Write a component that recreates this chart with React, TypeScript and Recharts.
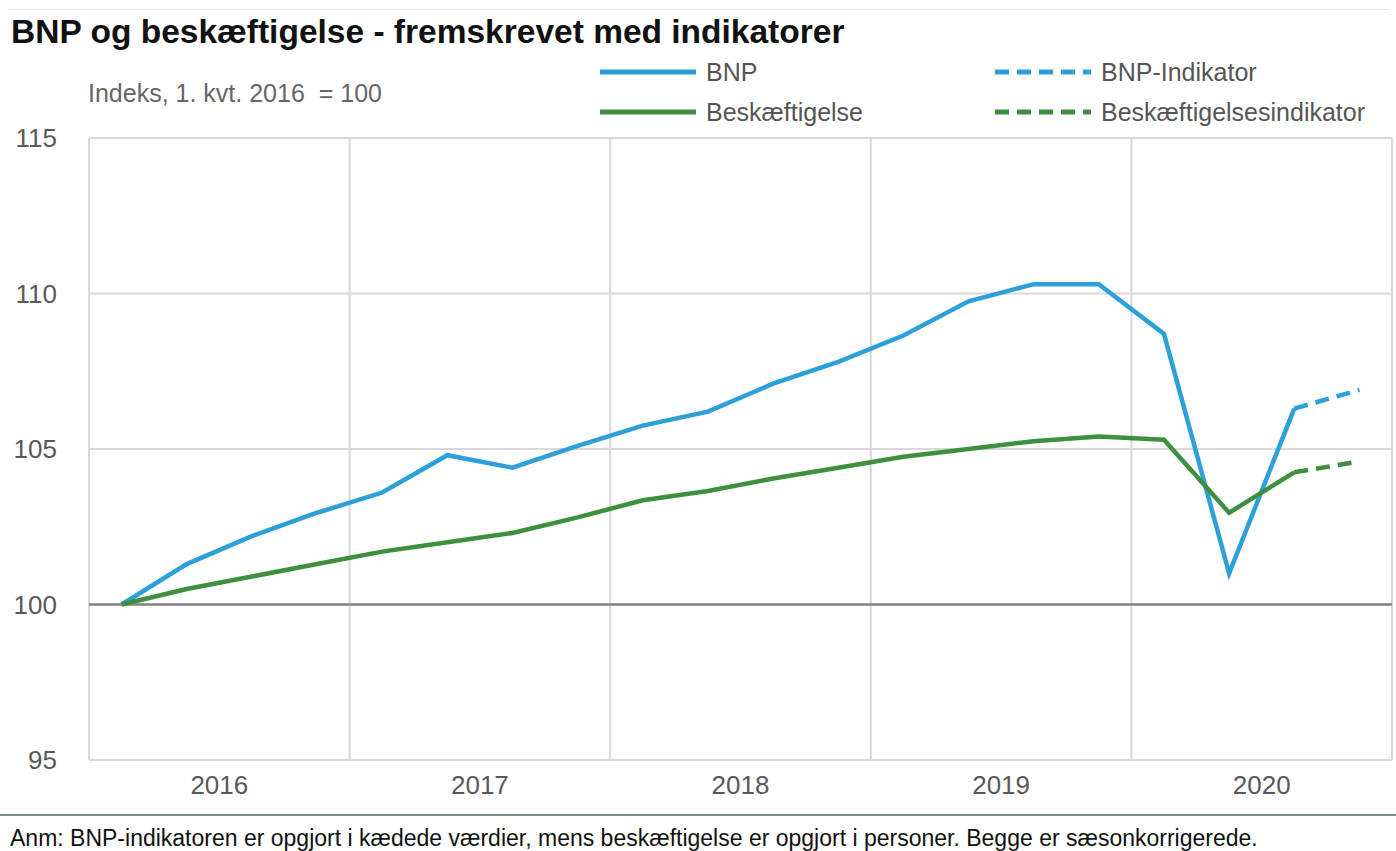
import React from "react";
import {
  LineChart,
  Line,
  XAxis,
  YAxis,
  CartesianGrid,
  ReferenceLine,
} from "recharts";

const years = [2016, 2017, 2018, 2019, 2020];
const quarters = ["K1", "K2", "K3", "K4"];

// BNP, indeks 1. kvt. 2016 = 100 (2016K1 .. 2020K3)
const bnpValues = [
  100, 101.3, 102.2, 102.95, 103.6, 104.8, 104.4, 105.1, 105.75, 106.2, 107.1, 107.8,
  108.65, 109.75, 110.3, 110.3, 108.7, 101.0, 106.3,
];
// BNP-indikator (2020K3 .. 2020K4)
const bnpIndicator = [106.3, 106.9];

const empValues = [
  100, 100.5, 100.9, 101.3, 101.7, 102.0, 102.3, 102.8, 103.35, 103.65, 104.05, 104.4,
  104.75, 105.0, 105.25, 105.4, 105.3, 102.95, 104.25,
];
const empIndicator = [104.25, 104.6];

const yTicks = [95, 100, 105, 110, 115];

const BLUE = "#2d9fd9";
const GREEN = "#3e8f40";
const NARROW = "'Liberation Sans Narrow', 'Liberation Sans', Arial, sans-serif";

const data = years.flatMap((y, yi) =>
  quarters.map((q, qi) => {
    const i = yi * 4 + qi;
    const indStart = bnpValues.length - 1;
    return {
      t: i,
      label: `${y}${q}`,
      bnp: i < bnpValues.length ? bnpValues[i] : null,
      emp: i < empValues.length ? empValues[i] : null,
      bnpInd: i >= indStart ? bnpIndicator[i - indStart] : null,
      empInd: i >= indStart ? empIndicator[i - indStart] : null,
    };
  })
);

const yearTicks = years.map((_, i) => i * 4 + 1.5);
const yearBounds = years.slice(1).map((_, i) => (i + 1) * 4 - 0.5);

const LegendItem = ({ color, dashed, label }: { color: string; dashed?: boolean; label: string }) => (
  <div style={{ display: "flex", alignItems: "center", height: 40 }}>
    <svg width={100} height={10} style={{ marginRight: 8 }}>
      <line
        x1={2}
        x2={98}
        y1={5}
        y2={5}
        stroke={color}
        strokeWidth={5}
        strokeDasharray={dashed ? "14 8" : undefined}
      />
    </svg>
    <span>{label}</span>
  </div>
);

export default function App() {
  return (
    <div
      style={{
        position: "absolute",
        left: 0,
        top: 0,
        width: 1396,
        height: 851,
        background: "#fff",
        overflow: "hidden",
      }}
    >
      <div style={{ position: "absolute", left: 8, right: 8, top: 9, borderTop: "1px solid #e6e6e6" }} />
      <div
        style={{
          position: "absolute",
          left: 11,
          top: 13,
          fontFamily: "'Liberation Sans', Arial, sans-serif",
          fontWeight: "bold",
          fontSize: 33.5,
          color: "#111",
          whiteSpace: "nowrap",
        }}
      >
        BNP og beskæftigelse - fremskrevet med indikatorer
      </div>
      <div
        style={{
          position: "absolute",
          left: 88,
          top: 79,
          fontFamily: NARROW,
          fontSize: 25,
          color: "#666",
          whiteSpace: "nowrap",
        }}
      >
        Indeks, 1. kvt. 2016&nbsp; = 100
      </div>
      <div
        style={{
          position: "absolute",
          left: 598,
          top: 52,
          fontFamily: NARROW,
          fontSize: 25,
          color: "#555",
          whiteSpace: "nowrap",
        }}
      >
        <LegendItem color={BLUE} label="BNP" />
        <LegendItem color={GREEN} label="Beskæftigelse" />
      </div>
      <div
        style={{
          position: "absolute",
          left: 993,
          top: 52,
          fontFamily: NARROW,
          fontSize: 25,
          color: "#555",
          whiteSpace: "nowrap",
        }}
      >
        <LegendItem color={BLUE} dashed label="BNP-Indikator" />
        <LegendItem color={GREEN} dashed label="Beskæftigelsesindikator" />
      </div>

      <div style={{ position: "absolute", left: 0, top: 0 }}>
        <LineChart
          width={1396}
          height={851}
          data={data}
          margin={{ top: 138, right: 4, bottom: 41, left: 0 }}
        >
          <CartesianGrid vertical={false} stroke="#d9d9d9" strokeWidth={2} />
          {yearBounds.map((b) => (
            <ReferenceLine key={b} x={b} stroke="#d9d9d9" strokeWidth={2} />
          ))}
          <ReferenceLine x={-0.5} stroke="#d9d9d9" strokeWidth={2} />
          <ReferenceLine x={19.5} stroke="#d9d9d9" strokeWidth={2} />
          <XAxis
            dataKey="t"
            type="number"
            domain={[-0.5, 19.5]}
            ticks={yearTicks}
            tickFormatter={(v: number) => String(years[Math.round((v - 1.5) / 4)])}
            axisLine={false}
            tickLine={false}
            tickMargin={10}
            height={50}
            tick={{ fill: "#595959", fontSize: 26, fontFamily: NARROW }}
            interval={0}
          />
          <YAxis
            domain={[95, 115]}
            ticks={yTicks}
            axisLine={false}
            tickLine={false}
            tickMargin={26}
            width={89}
            tick={{ fill: "#595959", fontSize: 26, fontFamily: NARROW }}
            interval={0}
          />
          <ReferenceLine y={100} stroke="#858585" strokeWidth={2.5} />
          <Line
            dataKey="bnp"
            stroke={BLUE}
            strokeWidth={4.5}
            dot={false}
            isAnimationActive={false}
            type="linear"
          />
          <Line
            dataKey="emp"
            stroke={GREEN}
            strokeWidth={4.5}
            dot={false}
            isAnimationActive={false}
            type="linear"
          />
          <Line
            dataKey="bnpInd"
            stroke={BLUE}
            strokeWidth={4.5}
            strokeDasharray="14 8"
            dot={false}
            isAnimationActive={false}
            type="linear"
          />
          <Line
            dataKey="empInd"
            stroke={GREEN}
            strokeWidth={4.5}
            strokeDasharray="14 8"
            dot={false}
            isAnimationActive={false}
            type="linear"
          />
        </LineChart>
      </div>

      <div style={{ position: "absolute", left: 0, right: 0, top: 814, borderTop: "2px solid #7d8b90" }} />
      <div
        style={{
          position: "absolute",
          left: 10,
          top: 825,
          fontFamily: "'Liberation Sans', Arial, sans-serif",
          fontSize: 23,
          color: "#111",
          whiteSpace: "nowrap",
        }}
      >
        Anm: BNP-indikatoren er opgjort i kædede værdier, mens beskæftigelse er opgjort i personer. Begge er sæsonkorrigerede.
      </div>
    </div>
  );
}
